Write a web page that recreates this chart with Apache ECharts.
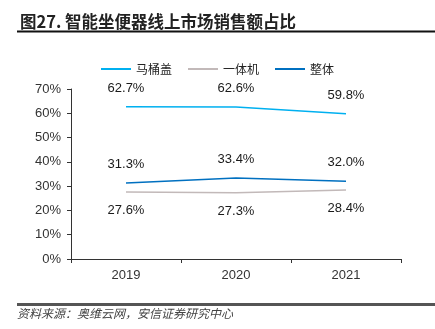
<!DOCTYPE html>
<html><head><meta charset="utf-8">
<script src="https://cdn.jsdelivr.net/npm/echarts@6/dist/echarts.min.js"></script>
<style>html,body{margin:0;padding:0;background:#fff}#c{width:435px;height:329px}</style>
</head><body><div id="c"></div>
<script>
const categories = ['2019', '2020', '2021'];
const seriesNames = ['马桶盖', '一体机', '整体'];
const lidValues = [62.7, 62.6, 59.8];
const oneValues = [27.6, 27.3, 28.4];
const allValues = [31.3, 33.4, 32.0];
const yTicks = [0, 10, 20, 30, 40, 50, 60, 70];
const titleText = '图27. 智能坐便器线上市场销售额占比';
const sourceText = '资料来源：奥维云网，安信证券研究中心';

const chart = echarts.init(document.getElementById('c'));
const lbl = (pos) => ({show: true, position: pos, distance: 12, color: '#1a1a1a', fontSize: 13,
  fontFamily: 'Liberation Sans, Arial, sans-serif', formatter: p => p.value.toFixed(1) + '%'});
const mk = (name, data, color, pos) => ({name, type: 'line', data, symbol: 'circle', symbolSize: 0,
  showSymbol: true, lineStyle: {color, width: 1.5}, itemStyle: {color}, label: lbl(pos)});
chart.setOption({
  animation: false,
  title: {text: titleText, left: 15, top: 8,
    textStyle: {fontSize: 16.5, fontWeight: 'bold', color: '#222', fontFamily: 'Noto Sans CJK SC'}},
  graphic: [
    {type: 'line', shape: {x1: 17, y1: 31.5, x2: 435, y2: 31.5}, style: {stroke: '#111', lineWidth: 2}},
    {type: 'line', shape: {x1: 17, y1: 304.5, x2: 435, y2: 304.5}, style: {stroke: '#555', lineWidth: 3}},
    {type: 'text', left: 17, top: 307, style: {text: sourceText, fontSize: 12, fontStyle: 'italic',
      fill: '#444', fontFamily: 'Noto Sans CJK SC'}}
  ],
  legend: {top: 58, left: 'center', itemWidth: 30, itemHeight: 2, itemGap: 16,
    textStyle: {fontSize: 12, color: '#222', fontFamily: 'Noto Sans CJK SC'},
    data: seriesNames.map(n => ({name: n, icon: 'rect'}))},
  grid: {left: 71, right: 34, top: 89, bottom: 70},
  xAxis: {type: 'category', data: categories, boundaryGap: true,
    axisLine: {lineStyle: {color: '#333', width: 1}},
    axisTick: {show: true, length: 4, lineStyle: {color: '#333'}},
    axisLabel: {fontSize: 13, color: '#333', margin: 10, fontFamily: 'Liberation Sans, Arial, sans-serif'}},
  yAxis: {type: 'value', min: yTicks[0], max: yTicks[yTicks.length - 1], interval: 10,
    axisLine: {show: true, lineStyle: {color: '#333'}},
    axisTick: {show: true, length: 4, lineStyle: {color: '#333'}},
    splitLine: {show: false},
    axisLabel: {fontSize: 13, color: '#333', margin: 10, formatter: v => v + '%',
      fontFamily: 'Liberation Sans, Arial, sans-serif'}},
  series: [
    mk(seriesNames[0], lidValues, '#00B0F0', 'top'),
    mk(seriesNames[1], oneValues, '#C2B9B9', 'bottom'),
    mk(seriesNames[2], allValues, '#0070C0', 'top')
  ]
});
</script></body></html>
